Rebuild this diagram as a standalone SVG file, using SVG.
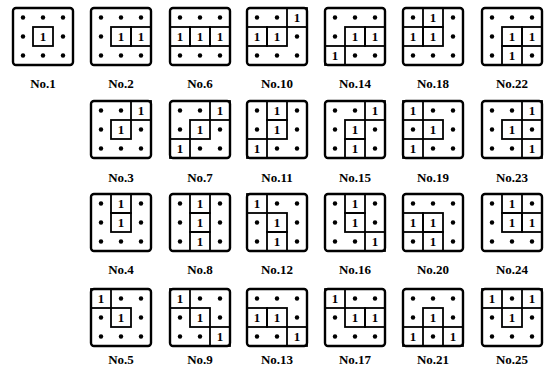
<svg xmlns="http://www.w3.org/2000/svg" xmlns:xlink="http://www.w3.org/1999/xlink" width="544" height="371" viewBox="0 0 544 371">
<style>
.b{fill:none;stroke:#000;stroke-width:2.4}
.c{fill:none;stroke:#000;stroke-width:1.8}
.d{fill:#000}
.n{font-family:"Liberation Serif",serif;font-weight:bold;font-size:13px;text-anchor:middle;fill:#000}
.l{font-family:"Liberation Serif",serif;font-weight:bold;font-size:13px;text-anchor:middle;fill:#000}
</style>
<defs>
<rect id="box" width="60" height="57" rx="3" class="b"/>
<rect id="cell" width="20" height="19" class="c"/>
<circle id="dot" r="2.2" class="d"/>
</defs>
<rect width="544" height="371" fill="#fff"/>
<g id="connectors"/>

<!-- Row 1 -->
<g id="no1" transform="translate(13,8)">
<use href="#box"/><use href="#cell" x="20" y="19"/>
<use href="#dot" x="10" y="9.5"/><use href="#dot" x="30" y="9.5"/><use href="#dot" x="50" y="9.5"/>
<use href="#dot" x="10" y="28.5"/><text class="n" x="30" y="33">1</text><use href="#dot" x="50" y="28.5"/>
<use href="#dot" x="10" y="47.5"/><use href="#dot" x="30" y="47.5"/><use href="#dot" x="50" y="47.5"/>
<text class="l" x="30" y="80">No.1</text>
</g>
<g id="no2" transform="translate(91,8)">
<use href="#box"/><use href="#cell" x="20" y="19"/><use href="#cell" x="40" y="19"/>
<use href="#dot" x="10" y="9.5"/><use href="#dot" x="30" y="9.5"/><use href="#dot" x="50" y="9.5"/>
<use href="#dot" x="10" y="28.5"/><text class="n" x="30" y="33">1</text><text class="n" x="50" y="33">1</text>
<use href="#dot" x="10" y="47.5"/><use href="#dot" x="30" y="47.5"/><use href="#dot" x="50" y="47.5"/>
<text class="l" x="30" y="80">No.2</text>
</g>
<g id="no6" transform="translate(170,8)">
<use href="#box"/><use href="#cell" x="0" y="19"/><use href="#cell" x="20" y="19"/><use href="#cell" x="40" y="19"/>
<use href="#dot" x="10" y="9.5"/><use href="#dot" x="30" y="9.5"/><use href="#dot" x="50" y="9.5"/>
<text class="n" x="10" y="33">1</text><text class="n" x="30" y="33">1</text><text class="n" x="50" y="33">1</text>
<use href="#dot" x="10" y="47.5"/><use href="#dot" x="30" y="47.5"/><use href="#dot" x="50" y="47.5"/>
<text class="l" x="30" y="80">No.6</text>
</g>
<g id="no10" transform="translate(247,8)">
<use href="#box"/><use href="#cell" x="40" y="0"/><use href="#cell" x="0" y="19"/><use href="#cell" x="20" y="19"/>
<use href="#dot" x="10" y="9.5"/><use href="#dot" x="30" y="9.5"/><text class="n" x="50" y="14">1</text>
<text class="n" x="10" y="33">1</text><text class="n" x="30" y="33">1</text><use href="#dot" x="50" y="28.5"/>
<use href="#dot" x="10" y="47.5"/><use href="#dot" x="30" y="47.5"/><use href="#dot" x="50" y="47.5"/>
<text class="l" x="30" y="80">No.10</text>
</g>
<g id="no14" transform="translate(325,8)">
<use href="#box"/><use href="#cell" x="20" y="19"/><use href="#cell" x="40" y="19"/><use href="#cell" x="0" y="38"/>
<use href="#dot" x="10" y="9.5"/><use href="#dot" x="30" y="9.5"/><use href="#dot" x="50" y="9.5"/>
<use href="#dot" x="10" y="28.5"/><text class="n" x="30" y="33">1</text><text class="n" x="50" y="33">1</text>
<text class="n" x="10" y="52">1</text><use href="#dot" x="30" y="47.5"/><use href="#dot" x="50" y="47.5"/>
<text class="l" x="30" y="80">No.14</text>
</g>
<g id="no18" transform="translate(403,8)">
<use href="#box"/><use href="#cell" x="20" y="0"/><use href="#cell" x="0" y="19"/><use href="#cell" x="20" y="19"/>
<use href="#dot" x="10" y="9.5"/><text class="n" x="30" y="14">1</text><use href="#dot" x="50" y="9.5"/>
<text class="n" x="10" y="33">1</text><text class="n" x="30" y="33">1</text><use href="#dot" x="50" y="28.5"/>
<use href="#dot" x="10" y="47.5"/><use href="#dot" x="30" y="47.5"/><use href="#dot" x="50" y="47.5"/>
<text class="l" x="30" y="80">No.18</text>
</g>
<g id="no22" transform="translate(482,8)">
<use href="#box"/><use href="#cell" x="20" y="19"/><use href="#cell" x="40" y="19"/><use href="#cell" x="20" y="38"/>
<use href="#dot" x="10" y="9.5"/><use href="#dot" x="30" y="9.5"/><use href="#dot" x="50" y="9.5"/>
<use href="#dot" x="10" y="28.5"/><text class="n" x="30" y="33">1</text><text class="n" x="50" y="33">1</text>
<use href="#dot" x="10" y="47.5"/><text class="n" x="30" y="52">1</text><use href="#dot" x="50" y="47.5"/>
<text class="l" x="30" y="80">No.22</text>
</g>

<!-- Row 2 -->
<g id="no3" transform="translate(91,101)">
<use href="#box"/><use href="#cell" x="40" y="0"/><use href="#cell" x="20" y="19"/>
<use href="#dot" x="10" y="9.5"/><use href="#dot" x="30" y="9.5"/><text class="n" x="50" y="14">1</text>
<use href="#dot" x="10" y="28.5"/><text class="n" x="30" y="33">1</text><use href="#dot" x="50" y="28.5"/>
<use href="#dot" x="10" y="47.5"/><use href="#dot" x="30" y="47.5"/><use href="#dot" x="50" y="47.5"/>
<text class="l" x="30" y="81">No.3</text>
</g>
<g id="no7" transform="translate(170,101)">
<use href="#box"/><use href="#cell" x="40" y="0"/><use href="#cell" x="20" y="19"/><use href="#cell" x="0" y="38"/>
<use href="#dot" x="10" y="9.5"/><use href="#dot" x="30" y="9.5"/><text class="n" x="50" y="14">1</text>
<use href="#dot" x="10" y="28.5"/><text class="n" x="30" y="33">1</text><use href="#dot" x="50" y="28.5"/>
<text class="n" x="10" y="52">1</text><use href="#dot" x="30" y="47.5"/><use href="#dot" x="50" y="47.5"/>
<text class="l" x="30" y="81">No.7</text>
</g>
<g id="no11" transform="translate(247,101)">
<use href="#box"/><use href="#cell" x="20" y="0"/><use href="#cell" x="20" y="19"/><use href="#cell" x="0" y="38"/>
<use href="#dot" x="10" y="9.5"/><text class="n" x="30" y="14">1</text><use href="#dot" x="50" y="9.5"/>
<use href="#dot" x="10" y="28.5"/><text class="n" x="30" y="33">1</text><use href="#dot" x="50" y="28.5"/>
<text class="n" x="10" y="52">1</text><use href="#dot" x="30" y="47.5"/><use href="#dot" x="50" y="47.5"/>
<text class="l" x="30" y="81">No.11</text>
</g>
<g id="no15" transform="translate(325,101)">
<use href="#box"/><use href="#cell" x="40" y="0"/><use href="#cell" x="20" y="19"/><use href="#cell" x="20" y="38"/>
<use href="#dot" x="10" y="9.5"/><use href="#dot" x="30" y="9.5"/><text class="n" x="50" y="14">1</text>
<use href="#dot" x="10" y="28.5"/><text class="n" x="30" y="33">1</text><use href="#dot" x="50" y="28.5"/>
<use href="#dot" x="10" y="47.5"/><text class="n" x="30" y="52">1</text><use href="#dot" x="50" y="47.5"/>
<text class="l" x="30" y="81">No.15</text>
</g>
<g id="no19" transform="translate(403,101)">
<use href="#box"/><use href="#cell" x="0" y="0"/><use href="#cell" x="20" y="19"/><use href="#cell" x="0" y="38"/>
<text class="n" x="10" y="14">1</text><use href="#dot" x="30" y="9.5"/><use href="#dot" x="50" y="9.5"/>
<use href="#dot" x="10" y="28.5"/><text class="n" x="30" y="33">1</text><use href="#dot" x="50" y="28.5"/>
<text class="n" x="10" y="52">1</text><use href="#dot" x="30" y="47.5"/><use href="#dot" x="50" y="47.5"/>
<text class="l" x="30" y="81">No.19</text>
</g>
<g id="no23" transform="translate(482,101)">
<use href="#box"/><use href="#cell" x="40" y="0"/><use href="#cell" x="20" y="19"/><use href="#cell" x="40" y="38"/>
<use href="#dot" x="10" y="9.5"/><use href="#dot" x="30" y="9.5"/><text class="n" x="50" y="14">1</text>
<use href="#dot" x="10" y="28.5"/><text class="n" x="30" y="33">1</text><use href="#dot" x="50" y="28.5"/>
<use href="#dot" x="10" y="47.5"/><use href="#dot" x="30" y="47.5"/><text class="n" x="50" y="52">1</text>
<text class="l" x="30" y="81">No.23</text>
</g>

<!-- Row 3 -->
<g id="no4" transform="translate(91,194)">
<use href="#box"/><use href="#cell" x="20" y="0"/><use href="#cell" x="20" y="19"/>
<use href="#dot" x="10" y="9.5"/><text class="n" x="30" y="14">1</text><use href="#dot" x="50" y="9.5"/>
<use href="#dot" x="10" y="28.5"/><text class="n" x="30" y="33">1</text><use href="#dot" x="50" y="28.5"/>
<use href="#dot" x="10" y="47.5"/><use href="#dot" x="30" y="47.5"/><use href="#dot" x="50" y="47.5"/>
<text class="l" x="30" y="80">No.4</text>
</g>
<g id="no8" transform="translate(170,194)">
<use href="#box"/><use href="#cell" x="20" y="0"/><use href="#cell" x="20" y="19"/><use href="#cell" x="20" y="38"/>
<use href="#dot" x="10" y="9.5"/><text class="n" x="30" y="14">1</text><use href="#dot" x="50" y="9.5"/>
<use href="#dot" x="10" y="28.5"/><text class="n" x="30" y="33">1</text><use href="#dot" x="50" y="28.5"/>
<use href="#dot" x="10" y="47.5"/><text class="n" x="30" y="52">1</text><use href="#dot" x="50" y="47.5"/>
<text class="l" x="30" y="80">No.8</text>
</g>
<g id="no12" transform="translate(247,194)">
<use href="#box"/><use href="#cell" x="0" y="0"/><use href="#cell" x="20" y="19"/><use href="#cell" x="20" y="38"/>
<text class="n" x="10" y="14">1</text><use href="#dot" x="30" y="9.5"/><use href="#dot" x="50" y="9.5"/>
<use href="#dot" x="10" y="28.5"/><text class="n" x="30" y="33">1</text><use href="#dot" x="50" y="28.5"/>
<use href="#dot" x="10" y="47.5"/><text class="n" x="30" y="52">1</text><use href="#dot" x="50" y="47.5"/>
<text class="l" x="30" y="80">No.12</text>
</g>
<g id="no16" transform="translate(325,194)">
<use href="#box"/><use href="#cell" x="20" y="0"/><use href="#cell" x="20" y="19"/><use href="#cell" x="40" y="38"/>
<use href="#dot" x="10" y="9.5"/><text class="n" x="30" y="14">1</text><use href="#dot" x="50" y="9.5"/>
<use href="#dot" x="10" y="28.5"/><text class="n" x="30" y="33">1</text><use href="#dot" x="50" y="28.5"/>
<use href="#dot" x="10" y="47.5"/><use href="#dot" x="30" y="47.5"/><text class="n" x="50" y="52">1</text>
<text class="l" x="30" y="80">No.16</text>
</g>
<g id="no20" transform="translate(403,194)">
<use href="#box"/><use href="#cell" x="0" y="19"/><use href="#cell" x="20" y="19"/><use href="#cell" x="20" y="38"/>
<use href="#dot" x="10" y="9.5"/><use href="#dot" x="30" y="9.5"/><use href="#dot" x="50" y="9.5"/>
<text class="n" x="10" y="33">1</text><text class="n" x="30" y="33">1</text><use href="#dot" x="50" y="28.5"/>
<use href="#dot" x="10" y="47.5"/><text class="n" x="30" y="52">1</text><use href="#dot" x="50" y="47.5"/>
<text class="l" x="30" y="80">No.20</text>
</g>
<g id="no24" transform="translate(482,194)">
<use href="#box"/><use href="#cell" x="20" y="0"/><use href="#cell" x="20" y="19"/><use href="#cell" x="40" y="19"/>
<use href="#dot" x="10" y="9.5"/><text class="n" x="30" y="14">1</text><use href="#dot" x="50" y="9.5"/>
<use href="#dot" x="10" y="28.5"/><text class="n" x="30" y="33">1</text><text class="n" x="50" y="33">1</text>
<use href="#dot" x="10" y="47.5"/><use href="#dot" x="30" y="47.5"/><use href="#dot" x="50" y="47.5"/>
<text class="l" x="30" y="80">No.24</text>
</g>

<!-- Row 4 -->
<g id="no5" transform="translate(91,289)">
<use href="#box"/><use href="#cell" x="0" y="0"/><use href="#cell" x="20" y="19"/>
<text class="n" x="10" y="14">1</text><use href="#dot" x="30" y="9.5"/><use href="#dot" x="50" y="9.5"/>
<use href="#dot" x="10" y="28.5"/><text class="n" x="30" y="33">1</text><use href="#dot" x="50" y="28.5"/>
<use href="#dot" x="10" y="47.5"/><use href="#dot" x="30" y="47.5"/><use href="#dot" x="50" y="47.5"/>
<text class="l" x="30" y="75">No.5</text>
</g>
<g id="no9" transform="translate(170,289)">
<use href="#box"/><use href="#cell" x="0" y="0"/><use href="#cell" x="20" y="19"/><use href="#cell" x="40" y="38"/>
<text class="n" x="10" y="14">1</text><use href="#dot" x="30" y="9.5"/><use href="#dot" x="50" y="9.5"/>
<use href="#dot" x="10" y="28.5"/><text class="n" x="30" y="33">1</text><use href="#dot" x="50" y="28.5"/>
<use href="#dot" x="10" y="47.5"/><use href="#dot" x="30" y="47.5"/><text class="n" x="50" y="52">1</text>
<text class="l" x="30" y="75">No.9</text>
</g>
<g id="no13" transform="translate(247,289)">
<use href="#box"/><use href="#cell" x="0" y="19"/><use href="#cell" x="20" y="19"/><use href="#cell" x="40" y="38"/>
<use href="#dot" x="10" y="9.5"/><use href="#dot" x="30" y="9.5"/><use href="#dot" x="50" y="9.5"/>
<text class="n" x="10" y="33">1</text><text class="n" x="30" y="33">1</text><use href="#dot" x="50" y="28.5"/>
<use href="#dot" x="10" y="47.5"/><use href="#dot" x="30" y="47.5"/><text class="n" x="50" y="52">1</text>
<text class="l" x="30" y="75">No.13</text>
</g>
<g id="no17" transform="translate(325,289)">
<use href="#box"/><use href="#cell" x="0" y="0"/><use href="#cell" x="20" y="19"/><use href="#cell" x="40" y="19"/>
<text class="n" x="10" y="14">1</text><use href="#dot" x="30" y="9.5"/><use href="#dot" x="50" y="9.5"/>
<use href="#dot" x="10" y="28.5"/><text class="n" x="30" y="33">1</text><text class="n" x="50" y="33">1</text>
<use href="#dot" x="10" y="47.5"/><use href="#dot" x="30" y="47.5"/><use href="#dot" x="50" y="47.5"/>
<text class="l" x="30" y="75">No.17</text>
</g>
<g id="no21" transform="translate(403,289)">
<use href="#box"/><use href="#cell" x="20" y="19"/><use href="#cell" x="0" y="38"/><use href="#cell" x="40" y="38"/>
<use href="#dot" x="10" y="9.5"/><use href="#dot" x="30" y="9.5"/><use href="#dot" x="50" y="9.5"/>
<use href="#dot" x="10" y="28.5"/><text class="n" x="30" y="33">1</text><use href="#dot" x="50" y="28.5"/>
<text class="n" x="10" y="52">1</text><use href="#dot" x="30" y="47.5"/><text class="n" x="50" y="52">1</text>
<text class="l" x="30" y="75">No.21</text>
</g>
<g id="no25" transform="translate(482,289)">
<use href="#box"/><use href="#cell" x="0" y="0"/><use href="#cell" x="40" y="0"/><use href="#cell" x="20" y="19"/>
<text class="n" x="10" y="14">1</text><use href="#dot" x="30" y="9.5"/><text class="n" x="50" y="14">1</text>
<use href="#dot" x="10" y="28.5"/><text class="n" x="30" y="33">1</text><use href="#dot" x="50" y="28.5"/>
<use href="#dot" x="10" y="47.5"/><use href="#dot" x="30" y="47.5"/><use href="#dot" x="50" y="47.5"/>
<text class="l" x="30" y="75">No.25</text>
</g>
</svg>
